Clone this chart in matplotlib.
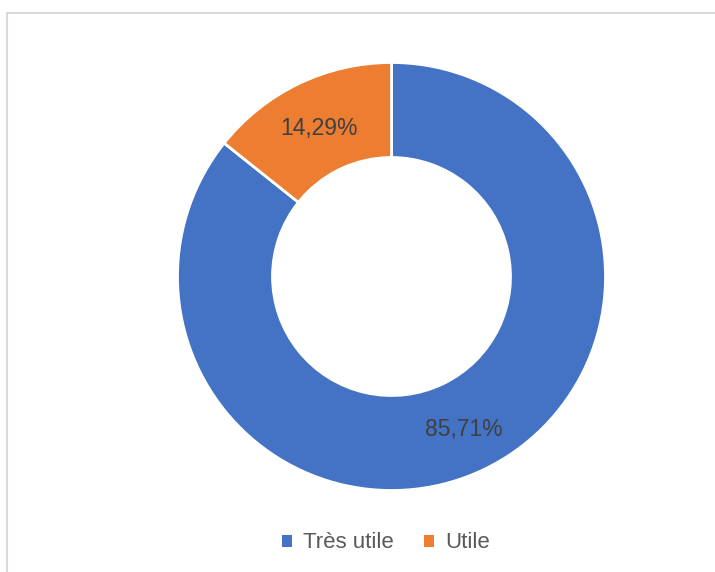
import matplotlib
matplotlib.use("Agg")
import matplotlib.pyplot as plt
from matplotlib.lines import Line2D

categories = ["Très utile", "Utile"]
values = [85.71, 14.29]
labels = ["85,71%", "14,29%"]
colors = ["#4472C4", "#ED7D31"]

plt.rcParams['font.family'] = ['Liberation Sans', 'DejaVu Sans']

W, H = 715, 572
fig = plt.figure(figsize=(W / 100, H / 100), dpi=100)
fig.patch.set_facecolor("white")

cx, cy, R = 391.5, 276.5, 214
ax = fig.add_axes([(cx - R) / W, (H - cy - R) / H, 2 * R / W, 2 * R / H])

inner = 119 / 214
wedges, texts = ax.pie(values, colors=colors, startangle=90, counterclock=False,
                       radius=1, wedgeprops=dict(width=1 - inner, edgecolor="white", linewidth=2),
                       labels=labels, labeldistance=(1 + inner) / 2,
                       textprops=dict(color="#404040", fontsize=16.5, ha="center", va="center_baseline"))
ax.set_xlim(-1, 1)
ax.set_ylim(-1, 1)
ax.set_aspect("equal")
ax.axis("off")

# frame
fig.add_artist(Line2D([7 / W, 7 / W], [0, 1 - 12.5 / H], color="#D9D9D9", lw=1.5, transform=fig.transFigure))
fig.add_artist(Line2D([7 / W, 1], [1 - 12.5 / H, 1 - 12.5 / H], color="#D9D9D9", lw=1.5, transform=fig.transFigure))

leg = fig.legend(wedges, categories, loc="center", bbox_to_anchor=(386 / W, 1 - 543 / H),
                 ncol=2, frameon=False, fontsize=16, handlelength=0.45, handleheight=0.45,
                 handletextpad=0.5, columnspacing=1.35, labelcolor="#595959")
for h in leg.legend_handles:
    h.set_edgecolor("none")

fig.savefig("out.png", dpi=100, facecolor="white")
